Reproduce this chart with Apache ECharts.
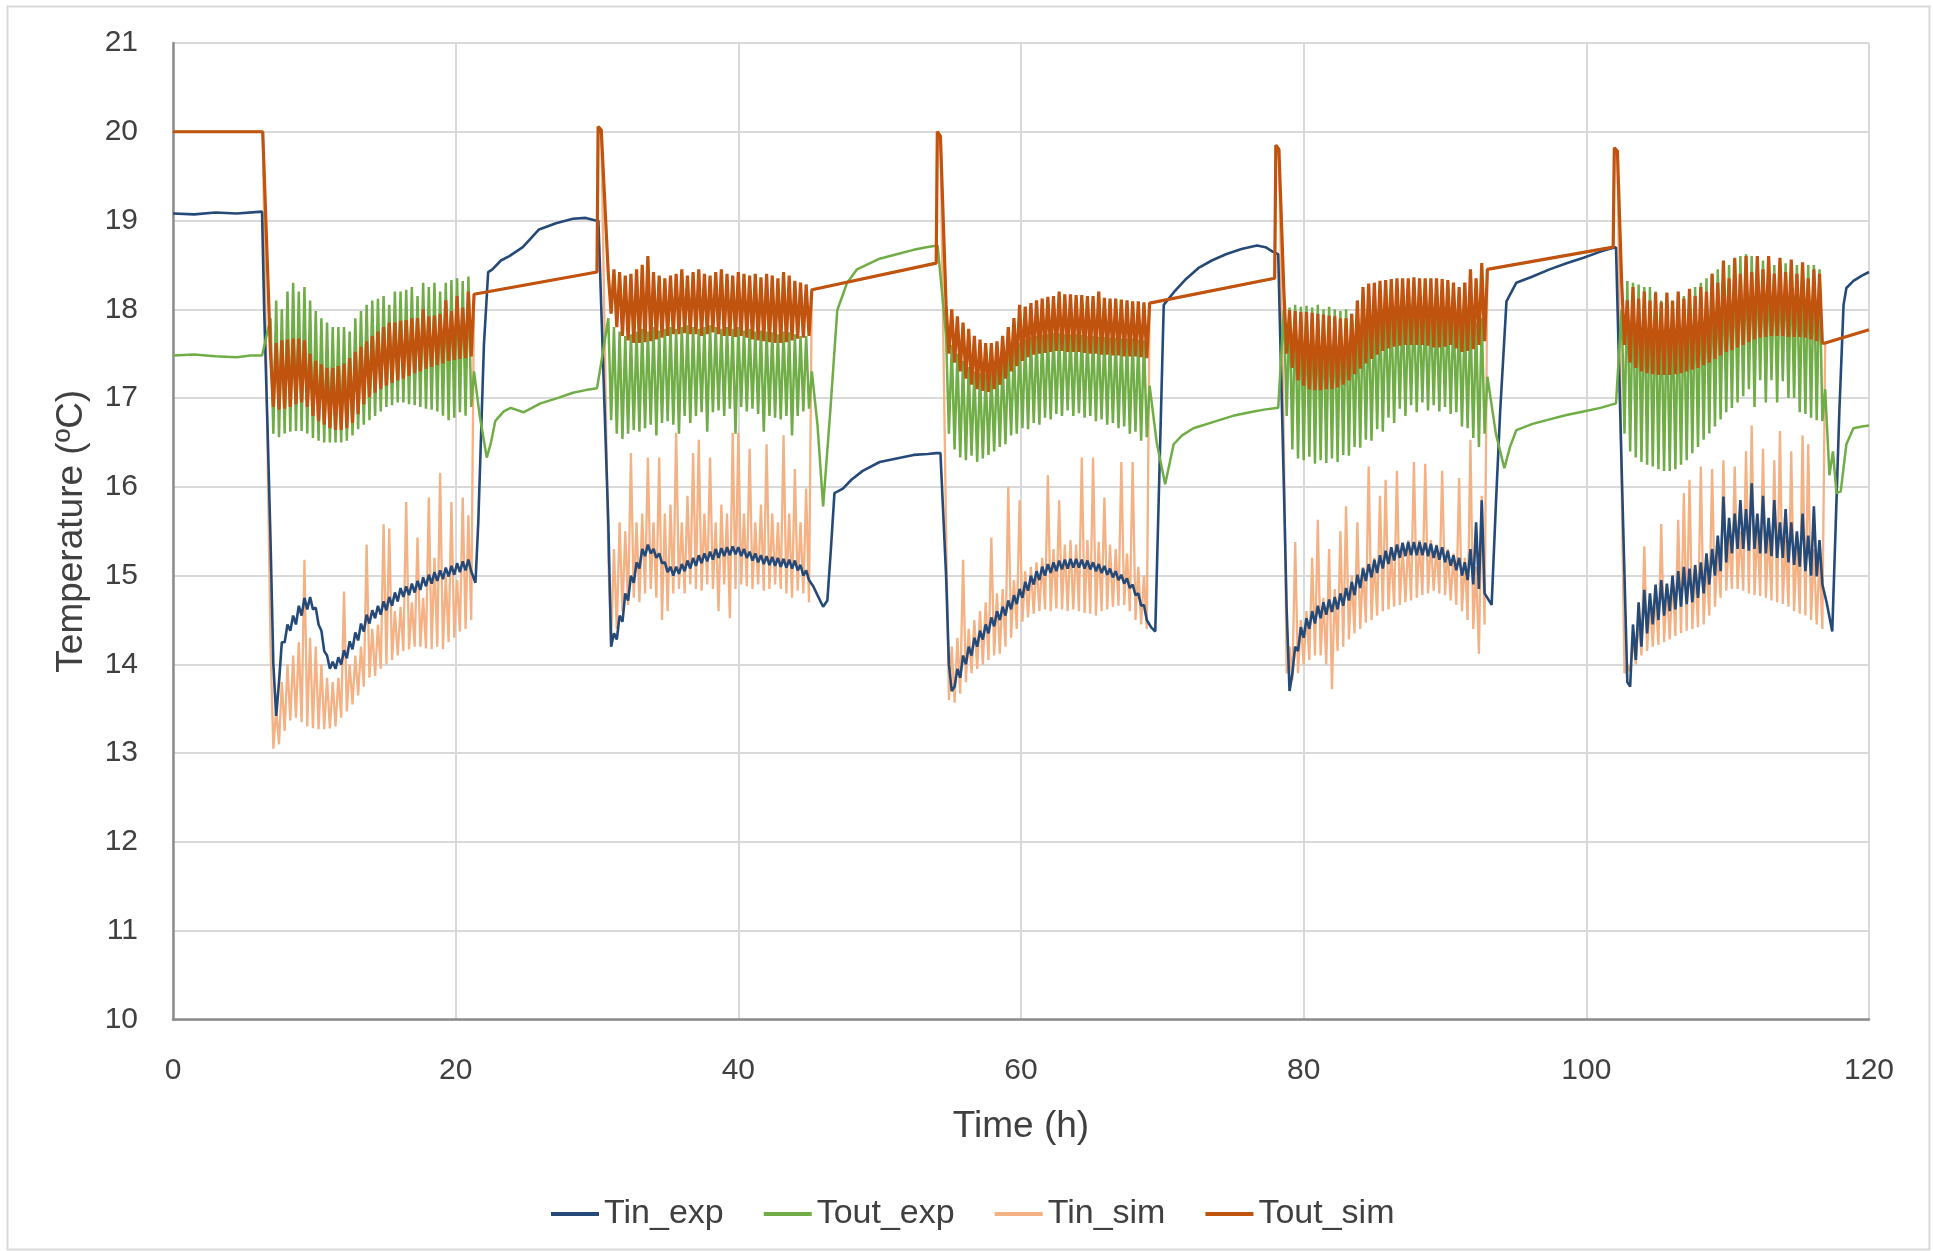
<!DOCTYPE html>
<html>
<head>
<meta charset="utf-8">
<script src="https://cdn.jsdelivr.net/npm/echarts@6/dist/echarts.min.js"></script>
<style>
html,body{margin:0;padding:0;background:#fff;}
#chart{width:1933px;height:1251px;}
</style>
</head>
<body>
<div id="chart"></div>
<script>
// ---------------- DATA ----------------
const seriesNames = ['Tin_exp', 'Tout_exp', 'Tin_sim', 'Tout_sim'];
const xTicks = [0, 20, 40, 60, 80, 100, 120];
const yTicks = [10, 11, 12, 13, 14, 15, 16, 17, 18, 19, 20, 21];

// start (h) of each operating period; samples inside a period are 0.2 h apart
const bandStart = [6.9, 30.8, 54.7, 78.6, 102.5];
const sampleStep = 0.2;

// ---- Tout_sim (simulated outlet) ----
const simOff = [
  [0, 20.0], [6.35, 20.0],
  [21.3, 18.17], [30.0, 18.42], [30.08, 20.06], [30.3, 20.02],
  [45.2, 18.22], [54.0, 18.52], [54.08, 20.0], [54.3, 19.95],
  [69.1, 18.07], [77.95, 18.35], [78.03, 19.85], [78.25, 19.8],
  [93.0, 18.45], [101.9, 18.7], [101.98, 19.82], [102.2, 19.78],
  [116.9, 17.62], [120, 17.77]
];
const toutSimHi = [
  [17.5,17.62,17.65,17.66,17.67,17.67,17.65,17.5,17.42,17.38,17.34,17.34,17.36,17.39,17.45,17.52,17.58,17.64,17.7,17.75,17.8,17.85,17.85,17.87,17.88,17.9,17.9,18.0,17.92,17.93,17.95,18.1,17.98,18.15,18.02,18.2],
  [18.4,18.45,18.42,18.38,18.4,18.45,18.5,18.6,18.42,18.38,18.35,18.38,18.4,18.45,18.38,18.42,18.45,18.4,18.38,18.42,18.45,18.4,18.38,18.42,18.4,18.38,18.4,18.36,18.4,18.38,18.35,18.42,18.38,18.32,18.3,18.28],
  [18.05,18.0,17.92,17.85,17.78,17.7,17.66,17.62,17.62,17.64,17.7,17.8,17.9,18.05,18.03,18.07,18.1,18.12,18.14,18.15,18.2,18.17,18.17,18.16,18.16,18.15,18.15,18.2,18.13,18.12,18.12,18.11,18.1,18.09,18.09,18.08],
  [18.2,17.99,17.98,17.97,17.97,17.96,17.95,17.94,17.93,17.92,17.9,17.9,17.95,18.1,18.25,18.29,18.3,18.32,18.33,18.34,18.35,18.35,18.35,18.36,18.35,18.35,18.35,18.35,18.34,18.33,18.3,18.25,18.3,18.45,18.35,18.52],
  [18.3,18.1,18.25,18.12,18.2,18.1,18.19,18.08,18.19,18.1,18.2,18.12,18.23,18.15,18.25,18.2,18.4,18.3,18.55,18.35,18.58,18.4,18.6,18.42,18.6,18.45,18.6,18.4,18.58,18.42,18.56,18.4,18.53,18.35,18.45,18.4]
];
const toutSimLo = [
  [16.9,16.87,16.88,16.9,16.93,16.95,16.9,16.8,16.74,16.7,16.66,16.64,16.64,16.66,16.72,16.82,16.93,17.01,17.06,17.1,17.14,17.17,17.2,17.22,17.25,17.28,17.3,17.33,17.35,17.37,17.39,17.42,17.43,17.44,17.45,17.47],
  [17.95,17.8,17.7,17.65,17.62,17.62,17.63,17.64,17.66,17.68,17.7,17.72,17.72,17.73,17.72,17.72,17.7,17.72,17.74,17.72,17.7,17.7,17.69,17.7,17.68,17.66,17.65,17.64,17.63,17.62,17.62,17.63,17.65,17.67,17.68,17.7],
  [17.5,17.4,17.3,17.22,17.15,17.1,17.08,17.07,17.1,17.15,17.22,17.3,17.36,17.42,17.46,17.49,17.5,17.51,17.52,17.53,17.53,17.52,17.52,17.52,17.51,17.5,17.5,17.49,17.49,17.48,17.48,17.47,17.47,17.47,17.46,17.45],
  [17.5,17.34,17.2,17.14,17.1,17.09,17.09,17.1,17.1,17.12,17.15,17.2,17.27,17.33,17.39,17.44,17.49,17.53,17.56,17.58,17.59,17.6,17.6,17.6,17.6,17.59,17.57,17.57,17.58,17.6,17.56,17.52,17.53,17.55,17.6,17.64],
  [17.6,17.4,17.34,17.3,17.28,17.27,17.26,17.26,17.26,17.27,17.28,17.3,17.32,17.34,17.37,17.4,17.44,17.48,17.52,17.54,17.57,17.6,17.63,17.66,17.68,17.69,17.7,17.7,17.7,17.69,17.69,17.69,17.68,17.66,17.64,17.62]
];

// ---- Tout_exp (measured outlet) ----
const toutExpOff = [
  [0, 17.48], [1.5, 17.49], [3, 17.47], [4.5, 17.46], [5.5, 17.48], [6.3, 17.48],
  [21.3, 17.3], [21.7, 16.8], [22.2, 16.33], [22.5, 16.5], [22.8, 16.74], [23.4, 16.85], [23.9, 16.89], [24.8, 16.84], [26.0, 16.94], [27.2, 17.0], [28.3, 17.06], [29.2, 17.09], [30.0, 17.11], [30.3, 17.4],
  [45.2, 17.3], [45.6, 16.7], [46.0, 15.78], [46.5, 16.84], [47.0, 17.99], [47.7, 18.3], [48.4, 18.45], [50.0, 18.57], [51.2, 18.62], [52.4, 18.67], [53.3, 18.7], [54.1, 18.72],
  [69.1, 17.14], [69.6, 16.5], [70.2, 16.03], [70.8, 16.48], [71.4, 16.58], [72.2, 16.66], [73.8, 16.74], [75.0, 16.8], [76.2, 16.84], [77.2, 16.87], [78.2, 16.89],
  [93.0, 17.24], [93.6, 16.6], [94.2, 16.21], [94.6, 16.45], [95.05, 16.64], [96.2, 16.71], [97.4, 16.76], [98.6, 16.81], [99.8, 16.85], [101.0, 16.89], [102.1, 16.94],
  [116.9, 17.1], [117.2, 16.13], [117.45, 16.4], [117.7, 15.93], [118.0, 15.95], [118.4, 16.48], [118.9, 16.66], [119.5, 16.68], [120, 16.69]
];
const toutExpHi = [
  [17.9,18.1,18.0,18.2,18.3,18.2,18.25,18.1,17.98,17.9,17.85,17.8,17.8,17.8,17.75,17.9,17.98,18.05,18.1,18.12,18.15,18.05,18.2,18.2,18.22,18.25,18.15,18.3,18.25,18.3,18.2,18.3,18.33,18.35,18.32,18.37],
  [17.9,17.8,17.75,17.7,17.72,17.75,17.78,17.75,17.8,17.76,17.78,17.8,17.78,17.8,17.82,17.8,17.78,17.8,17.82,17.8,17.78,17.8,17.78,17.8,17.76,17.78,17.75,17.76,17.75,17.74,17.72,17.75,17.74,17.72,17.7,17.7],
  [17.7,17.6,17.5,17.42,17.35,17.3,17.28,17.27,17.3,17.35,17.42,17.5,17.56,17.62,17.66,17.69,17.7,17.71,17.72,17.73,17.73,17.72,17.72,17.72,17.71,17.7,17.7,17.69,17.69,17.68,17.68,17.67,17.67,17.67,17.66,17.65],
  [18.0,18.02,18.05,18.03,18.04,18.02,18.05,18.0,18.03,18.0,17.98,18.0,17.95,17.95,18.0,18.02,18.0,18.05,18.0,18.05,18.02,18.05,18.0,18.05,18.02,18.0,18.05,18.0,18.02,18.0,17.98,17.95,17.9,17.92,17.85,17.9],
  [18.0,18.32,18.3,18.28,18.25,18.25,18.2,18.1,18.05,18.05,18.1,18.15,18.2,18.25,18.3,18.35,18.4,18.45,18.45,18.5,18.55,18.6,18.62,18.6,18.58,18.55,18.52,18.5,18.5,18.52,18.5,18.5,18.48,18.5,18.5,18.45]
];
const toutExpLo = [
  [16.6,16.56,16.6,16.62,16.63,16.63,16.6,16.55,16.52,16.5,16.5,16.5,16.5,16.52,16.58,16.65,16.7,16.75,16.8,16.85,16.9,16.92,16.95,16.95,16.93,16.92,16.9,16.88,16.87,16.85,16.8,16.75,16.78,16.84,16.8,16.9],
  [16.75,16.6,16.54,16.6,16.64,16.62,16.66,16.7,16.58,16.72,16.74,16.7,16.6,16.8,16.72,16.8,16.84,16.62,16.84,16.86,16.8,16.88,16.6,16.9,16.85,16.88,16.82,16.62,16.8,16.78,16.76,16.8,16.58,16.8,16.85,16.88],
  [16.6,16.42,16.33,16.3,16.35,16.28,16.32,16.36,16.4,16.45,16.48,16.58,16.6,16.66,16.65,16.72,16.7,16.78,16.76,16.82,16.8,16.86,16.8,16.83,16.78,16.8,16.74,16.76,16.7,16.72,16.66,16.68,16.6,16.62,16.52,16.56],
  [16.8,16.42,16.32,16.3,16.34,16.26,16.3,16.27,16.32,16.28,16.36,16.35,16.45,16.44,16.53,16.52,16.65,16.62,16.78,16.72,16.88,16.8,16.92,16.84,16.95,16.86,16.92,16.85,16.9,16.82,16.84,16.68,16.66,16.55,16.45,16.6],
  [16.6,16.4,16.33,16.28,16.25,16.23,16.2,16.18,16.18,16.2,16.25,16.3,16.38,16.45,16.53,16.6,16.68,16.76,16.84,16.89,16.95,17.02,17.1,16.9,17.2,16.95,17.2,16.95,17.19,17.0,17.0,16.84,16.82,16.78,16.75,16.74]
];

// ---- Tin_sim (simulated inlet) : equal to Tout_sim when the system is off ----
const tinSimHi = [
  [14.2,13.5,13.8,14.0,14.1,14.25,15.18,14.3,14.2,14.0,13.85,13.8,13.85,14.82,14.0,14.1,14.2,15.35,14.4,14.45,15.58,15.53,14.6,14.65,15.83,14.7,15.43,14.75,15.88,15.2,16.16,15.0,15.83,14.95,15.88,15.68],
  [15.2,15.3,15.6,15.5,16.38,15.6,15.7,16.33,15.6,16.33,15.7,15.8,16.61,15.6,15.9,16.38,16.53,15.7,16.33,15.6,15.8,15.7,16.61,16.61,15.7,16.43,15.6,15.8,16.48,15.7,15.6,16.58,15.7,16.2,15.6,15.98],
  [15.5,14.2,14.3,15.18,14.4,14.5,14.6,14.7,15.43,14.8,14.85,16.0,14.95,15.85,15.05,15.1,15.15,15.2,16.13,15.3,15.85,15.35,15.4,15.35,16.33,15.4,16.33,15.38,15.88,15.35,15.3,16.28,15.25,16.28,15.1,15.0],
  [16.5,14.2,15.38,14.5,14.6,15.2,15.63,14.75,15.3,14.85,15.5,15.78,15.0,15.6,15.1,16.23,15.2,15.9,16.08,15.3,16.18,15.35,15.4,16.28,15.4,16.26,15.4,15.35,16.18,15.3,15.25,16.1,15.2,16.53,15.1,15.9],
  [16.0,14.0,14.3,14.5,15.33,14.7,14.8,15.58,14.9,15.0,15.63,15.93,16.08,15.1,16.23,15.2,16.2,15.3,16.3,15.45,16.23,15.5,16.4,16.69,15.55,16.43,15.5,16.3,16.63,15.45,16.4,15.4,16.58,16.48,15.3,15.2]
];
const tinSimLo = [
  [13.05,13.1,13.25,13.37,13.4,13.35,13.3,13.28,13.27,13.27,13.28,13.3,13.4,13.47,13.55,13.65,13.75,13.85,13.87,13.95,14.0,14.05,14.1,14.15,14.17,14.2,14.2,14.18,14.17,14.2,14.17,14.25,14.3,14.37,14.4,14.5],
  [14.25,14.4,14.6,14.67,14.75,14.7,14.8,14.85,14.75,14.5,14.6,14.8,14.85,14.8,14.9,14.85,14.83,14.9,14.85,14.6,14.9,14.52,14.85,14.9,14.88,14.85,14.9,14.83,14.85,14.9,14.85,14.8,14.75,14.83,14.8,14.7],
  [13.6,13.57,13.67,13.8,13.9,13.95,14.0,14.05,14.1,14.12,14.2,14.3,14.4,14.48,14.53,14.57,14.6,14.62,14.6,14.63,14.62,14.6,14.62,14.6,14.58,14.57,14.55,14.6,14.62,14.65,14.66,14.67,14.6,14.5,14.45,14.4],
  [13.9,13.82,13.9,14.0,14.05,14.1,14.1,14.0,13.72,14.15,14.2,14.28,14.35,14.4,14.47,14.5,14.55,14.6,14.62,14.65,14.67,14.7,14.72,14.75,14.78,14.8,14.83,14.8,14.78,14.72,14.67,14.6,14.5,14.4,14.12,14.45],
  [13.9,13.92,14.0,14.1,14.15,14.2,14.22,14.25,14.28,14.32,14.35,14.38,14.4,14.42,14.45,14.55,14.65,14.75,14.83,14.85,14.85,14.83,14.8,14.78,14.77,14.75,14.72,14.7,14.68,14.65,14.6,14.57,14.55,14.5,14.45,14.4]
];

// ---- Tin_exp (measured inlet) ----
const tinExpOff = [
  [0, 19.08], [1.5, 19.07], [3, 19.09], [4.5, 19.08], [6.3, 19.1], [6.45, 18.0], [6.7, 16.6],
  [21.4, 14.92], [21.6, 15.6], [22.0, 17.6], [22.3, 18.42], [22.6, 18.45], [23.2, 18.55], [23.8, 18.6], [24.75, 18.7], [25.9, 18.9], [27.1, 18.97], [28.3, 19.02], [29.2, 19.03], [29.9, 19.0], [30.1, 19.0],
  [45.3, 14.88], [45.6, 14.78], [46.0, 14.65], [46.3, 14.72], [46.55, 15.3], [46.8, 15.93], [47.4, 15.98], [48.0, 16.08], [48.8, 16.18], [50.0, 16.28], [51.2, 16.32], [52.4, 16.36], [53.4, 16.37], [54.0, 16.38], [54.3, 16.38],
  [69.2, 14.42], [69.5, 14.37], [69.8, 16.2], [70.1, 18.05], [70.8, 18.19], [71.6, 18.33], [72.6, 18.47], [73.5, 18.55], [74.5, 18.62], [75.6, 18.68], [76.7, 18.72], [77.3, 18.7], [77.8, 18.65], [78.2, 18.62],
  [93.0, 14.75], [93.3, 14.67], [93.6, 15.8], [93.9, 16.84], [94.35, 18.09], [95.05, 18.3], [96.2, 18.37], [97.4, 18.45], [98.6, 18.52], [99.8, 18.58], [101.0, 18.65], [101.6, 18.68], [102.1, 18.7],
  [117.0, 14.7], [117.4, 14.37], [117.65, 15.6], [117.9, 16.84], [118.2, 18.05], [118.4, 18.24], [118.9, 18.32], [119.5, 18.38], [120, 18.42]
];
const tinExpBand = [
  [15.4,14.0,13.42,13.8,14.25,14.25,14.45,14.38,14.55,14.45,14.66,14.55,14.75,14.62,14.76,14.62,14.64,14.45,14.38,14.15,14.1,13.95,14.03,13.95,14.08,14.0,14.16,14.07,14.26,14.17,14.36,14.27,14.46,14.37,14.56,14.46,14.61,14.52,14.66,14.56,14.71,14.61,14.76,14.66,14.81,14.71,14.86,14.76,14.88,14.78,14.91,14.81,14.94,14.84,14.98,14.88,15.01,14.91,15.04,14.94,15.06,14.96,15.09,14.99,15.11,15.01,15.14,15.04,15.16,15.06,15.18,15.05],
  [15.6,14.2,14.35,14.28,14.55,14.48,14.8,14.72,15.0,14.92,15.15,15.08,15.3,15.22,15.35,15.25,15.3,15.2,15.25,15.14,15.15,15.04,15.1,15.0,15.1,15.02,15.13,15.05,15.17,15.08,15.2,15.11,15.23,15.14,15.25,15.16,15.27,15.18,15.3,15.2,15.31,15.22,15.32,15.23,15.33,15.24,15.32,15.22,15.3,15.2,15.27,15.17,15.25,15.15,15.23,15.13,15.22,15.12,15.21,15.11,15.2,15.1,15.19,15.09,15.18,15.08,15.17,15.06,15.12,15.0,15.06,14.95],
  [15.0,14.0,13.7,13.75,13.95,13.85,14.1,14.0,14.2,14.1,14.3,14.2,14.38,14.28,14.45,14.35,14.53,14.43,14.6,14.5,14.65,14.55,14.72,14.62,14.78,14.68,14.85,14.75,14.93,14.83,15.0,14.9,15.05,14.95,15.1,15.0,15.13,15.03,15.15,15.05,15.17,15.07,15.18,15.08,15.19,15.09,15.19,15.09,15.18,15.08,15.17,15.07,15.15,15.05,15.13,15.03,15.11,15.01,15.08,14.98,15.05,14.95,15.01,14.91,14.97,14.86,14.9,14.78,14.8,14.66,14.67,14.5],
  [16.0,14.6,13.7,13.9,14.2,14.15,14.42,14.3,14.52,14.4,14.6,14.46,14.66,14.52,14.7,14.56,14.73,14.59,14.76,14.62,14.8,14.66,14.86,14.72,14.93,14.78,15.01,14.86,15.08,14.94,15.13,14.98,15.18,15.03,15.23,15.08,15.28,15.13,15.32,15.17,15.35,15.2,15.37,15.22,15.38,15.23,15.38,15.23,15.38,15.23,15.37,15.22,15.36,15.2,15.34,15.18,15.32,15.15,15.28,15.11,15.23,15.06,15.2,15.0,15.15,14.95,15.3,14.9,15.6,14.85,15.85,14.8],
  [16.2,15.0,13.8,13.75,14.45,14.05,14.7,14.2,14.84,14.35,14.8,14.45,14.9,14.5,14.95,14.55,14.91,14.6,15.0,14.62,15.05,14.65,15.1,14.68,15.08,14.7,15.12,14.75,15.15,14.8,15.25,14.9,15.3,15.0,15.45,15.05,15.89,15.15,15.65,15.25,15.7,15.3,15.85,15.3,15.75,15.28,16.04,15.3,15.7,15.25,15.9,15.25,15.65,15.22,15.85,15.2,15.6,15.2,15.75,15.15,15.6,15.12,15.5,15.1,15.7,15.05,15.45,15.0,15.78,14.99,15.4,14.9]
];

// ---------------- build series from the arrays ----------------
function fromHiLo(off, hi, lo) {
  const pts = off.map(p => [p[0], p[1]]);
  hi.forEach((band, b) => {
    band.forEach((v, k) => {
      const t = bandStart[b] + 2 * k * sampleStep;
      pts.push([+t.toFixed(2), v]);
      pts.push([+(t + sampleStep).toFixed(2), lo[b][k]]);
    });
  });
  return pts.sort((a, c) => a[0] - c[0]);
}
function fromSeq(off, bands) {
  const pts = off.map(p => [p[0], p[1]]);
  bands.forEach((band, b) => {
    band.forEach((v, i) => pts.push([+(bandStart[b] + i * sampleStep).toFixed(2), v]));
  });
  return pts.sort((a, c) => a[0] - c[0]);
}

const dTinExp = fromSeq(tinExpOff, tinExpBand);
const dToutExp = fromHiLo(toutExpOff, toutExpHi, toutExpLo);
const dTinSim = fromHiLo(simOff, tinSimHi, tinSimLo);
const dToutSim = fromHiLo(simOff, toutSimHi, toutSimLo);

const colors = { Tin_exp: '#264a78', Tout_exp: '#70ad47', Tin_sim: '#f4b183', Tout_sim: '#c0540f' };
const FONT = '"Liberation Sans", Arial, sans-serif';

function lineSeries(name, data, width) {
  return {
    name: name, type: 'line', data: data, showSymbol: false, symbol: 'none',
    lineStyle: { color: colors[name], width: width },
    itemStyle: { color: colors[name] },
    emphasis: { disabled: true }, animation: false
  };
}

const chart = echarts.init(document.getElementById('chart'), null, { renderer: 'canvas' });
chart.setOption({
  animation: false,
  backgroundColor: '#ffffff',
  textStyle: { fontFamily: FONT },
  graphic: [{
    type: 'rect', left: 5, top: 4, silent: true,
    shape: { width: 1922, height: 1243 },
    style: { fill: 'none', stroke: '#d9d9d9', lineWidth: 2 }
  }],
  grid: { left: 173, right: 64, top: 43, bottom: 231.5, containLabel: false },
  legend: {
    data: seriesNames, left: 546, top: 1192, icon: 'rect',
    itemWidth: 48, itemHeight: 4, itemGap: 40,
    textStyle: { fontSize: 34, color: '#404040', fontFamily: FONT }
  },
  xAxis: {
    type: 'value', min: xTicks[0], max: xTicks[xTicks.length - 1], interval: 20,
    axisLine: { show: true, onZero: false, lineStyle: { color: '#8c8c8c', width: 2.5 } },
    axisTick: { show: false },
    splitLine: { show: true, lineStyle: { color: '#d9d9d9', width: 2 } },
    axisLabel: { fontSize: 30, color: '#404040', margin: 36, fontFamily: FONT },
    name: 'Time (h)', nameLocation: 'middle', nameGap: 89,
    nameTextStyle: { fontSize: 37, color: '#404040', fontFamily: FONT }
  },
  yAxis: {
    type: 'value', min: yTicks[0], max: yTicks[yTicks.length - 1], interval: 1,
    axisLine: { show: true, onZero: false, lineStyle: { color: '#8c8c8c', width: 2.5 } },
    axisTick: { show: false },
    splitLine: { show: true, lineStyle: { color: '#d9d9d9', width: 2 } },
    axisLabel: { fontSize: 30, color: '#404040', margin: 35, fontFamily: FONT },
    name: 'Temperature (ºC)', nameLocation: 'middle', nameGap: 83,
    nameTextStyle: { fontSize: 37, color: '#404040', fontFamily: FONT }
  },
  series: [
    lineSeries('Tin_sim', dTinSim, 2.3),
    lineSeries('Tin_exp', dTinExp, 2.6),
    lineSeries('Tout_exp', dToutExp, 2.5),
    lineSeries('Tout_sim', dToutSim, 3.2)
  ]
});
</script>
</body>
</html>
